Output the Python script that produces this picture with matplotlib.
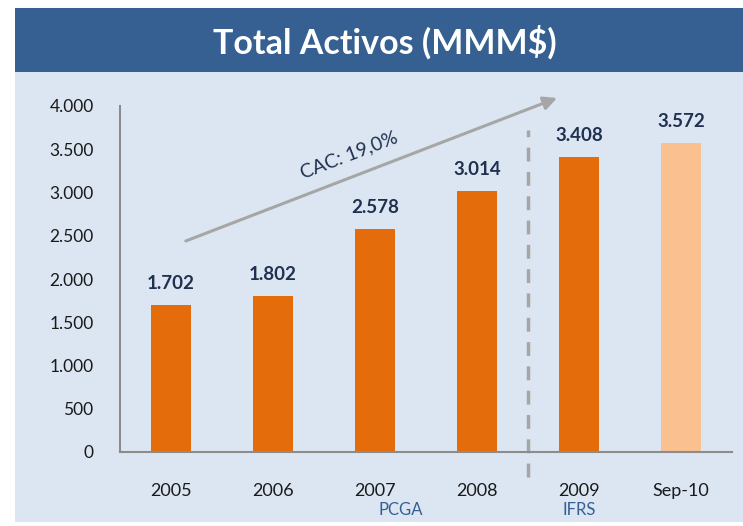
import matplotlib.pyplot as plt
from matplotlib.patches import Rectangle

categories = ['2005', '2006', '2007', '2008', '2009', 'Sep-10']
values = [1702, 1802, 2578, 3014, 3408, 3572]
bar_colors = ['#E46C0A', '#E46C0A', '#E46C0A', '#E46C0A', '#E46C0A', '#FAC090']
value_labels = ['1.702', '1.802', '2.578', '3.014', '3.408', '3.572']
yticks = [0, 500, 1000, 1500, 2000, 2500, 3000, 3500, 4000]
ytick_labels = ['0', '500', '1.000', '1.500', '2.000', '2.500', '3.000', '3.500', '4.000']

plt.rcParams['font.family'] = ['Lato', 'DejaVu Sans']

fig = plt.figure(figsize=(7.43, 5.26), dpi=100)
fig.patch.set_facecolor('white')

# background panel and title banner
fig.patches.append(Rectangle((15 / 743, 4 / 526), 728 / 743, 450 / 526,
                             transform=fig.transFigure, facecolor='#DCE6F2',
                             edgecolor='none', zorder=-10))
fig.patches.append(Rectangle((15 / 743, 454 / 526), 728 / 743, 64 / 526,
                             transform=fig.transFigure, facecolor='#366092',
                             edgecolor='none', zorder=-10))
fig.text(385 / 743, 484 / 526, 'Total Activos (MMM$)', color='white',
         fontsize=24.5, fontweight='bold', ha='center', va='center')

ax = fig.add_axes([120 / 743, 74 / 526, 612 / 743, 346 / 526])
ax.set_facecolor('none')
x = list(range(len(categories)))
ax.bar(x, values, width=0.4, color=bar_colors, zorder=2)
for xi, v, lab in zip(x, values, value_labels):
    ax.text(xi, v + 150, lab, ha='center', va='bottom', fontsize=13.5,
            fontweight='bold', color='#1F3050')

ax.set_xlim(-0.5, 5.5)
ax.set_ylim(0, 4000)
ax.set_yticks(yticks)
ax.set_yticklabels(ytick_labels)
ax.set_xticks(x)
ax.set_xticklabels(categories)
ax.tick_params(axis='y', length=0, pad=19, labelsize=12.5, labelcolor='#1a1a1a')
ax.tick_params(axis='x', length=0, pad=22, labelsize=13, labelcolor='#1a1a1a')
for s in ['top', 'right']:
    ax.spines[s].set_visible(False)
for s in ['left', 'bottom']:
    ax.spines[s].set_color('#8C8C8C')
    ax.spines[s].set_linewidth(1.5)

# separator between accounting standards
ax.plot([3.5, 3.5], [-290, 3720], color='#A6A6A6', lw=2.5,
        linestyle=(0, (4, 3)), clip_on=False, zorder=1)

# growth arrow
ax.annotate('', xy=(3.81, 4104), xytext=(0.12, 2428),
            arrowprops=dict(arrowstyle='-|>', color='#A6A6A6', lw=2.2,
                            mutation_scale=20),
            annotation_clip=False)
ax.text(1.75, 3434, 'CAC: 19,0%', rotation=21, ha='center', va='center',
        fontsize=14, color='#1F3050')

ax.text(2.25, -670, 'PCGA', ha='center', va='center', fontsize=12,
        color='#366092')
ax.text(4.0, -670, 'IFRS', ha='center', va='center', fontsize=12,
        color='#366092')

fig.savefig('out.png', dpi=100)
